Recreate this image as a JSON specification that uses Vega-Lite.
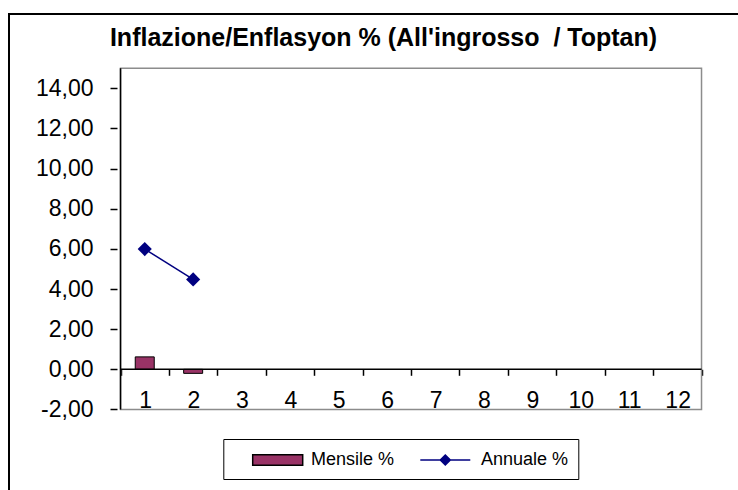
{
  "$schema": "https://vega.github.io/schema/vega-lite/v6.json",
  "width": 735,
  "height": 480,
  "autosize": {"type": "none"},
  "padding": {"left": 9, "top": 14, "right": 0, "bottom": 0},
  "background": "white",
  "config": {
    "view": {"stroke": "black", "strokeWidth": 2},
    "font": "Liberation Sans"
  },
  "title": {
    "text": "Inflazione/Enflasyon % (All'ingrosso \u00a0/ Toptan)",
    "font": "Liberation Sans",
    "fontSize": 25,
    "fontWeight": "bold",
    "color": "black",
    "anchor": "middle",
    "baseline": "alphabetic",
    "offset": 0,
    "dx": 7,
    "dy": 57
  },
  "data": {
    "values": [
      {"cat": 1, "series": "Mensile %", "value": 0.62},
      {"cat": 2, "series": "Mensile %", "value": -0.2},
      {"cat": 1, "series": "Annuale %", "value": 5.99},
      {"cat": 2, "series": "Annuale %", "value": 4.48}
    ]
  },
  "layer": [
    {
      "transform": [{"filter": "datum.series === 'Mensile %'"}],
      "mark": {"type": "bar", "width": 19, "strokeWidth": 1},
      "encoding": {
        "x": {
          "field": "cat",
          "type": "quantitative",
          "title": null,
          "scale": {"domain": [-1.7003, 13.2742], "nice": false, "zero": false},
          "axis": {
            "values": [0.5, 1.5, 2.5, 3.5, 4.5, 5.5, 6.5, 7.5, 8.5, 9.5, 10.5, 11.5, 12.5],
            "labelExpr": "datum.value < 12 ? format(datum.value + 0.5, 'd') : ''",
            "labelOffset": 24.54, "offset": -124.7, "domain": false, "grid": false,
            "tickColor": "black", "tickSize": 6, "tickWidth": 1.5,
            "labelFont": "Liberation Sans", "labelFontSize": 23, "labelColor": "black", "labelPadding": 14,
            "labelOverlap": false, "labelFlush": false, "labelBound": false
          }
        },
        "y": {
          "field": "value",
          "type": "quantitative",
          "title": null,
          "scale": {"domain": [-6.21, 17.7], "nice": false, "zero": false},
          "axis": {
            "values": [-2, 0, 2, 4, 6, 8, 10, 12, 14],
            "labelExpr": "replace(replace(format(datum.value, '.2f'), '.', ','), '\u2212', '-')",
            "offset": -108, "domain": false, "grid": false,
            "tickColor": "black", "tickSize": 7, "tickWidth": 1.5,
            "labelFont": "Liberation Sans", "labelFontSize": 23, "labelColor": "black", "labelPadding": 17,
            "labelOverlap": false, "labelFlush": false, "labelBound": false
          }
        },
        "y2": {"datum": 0},
        "fill": {
          "field": "series",
          "type": "nominal",
          "scale": {"domain": ["Mensile %", "Annuale %"], "range": ["#993366", "transparent"]},
          "legend": {
            "title": null, "orient": "none", "legendX": 214.3, "legendY": 425, "direction": "horizontal",
            "fillColor": "white", "strokeColor": "black", "padding": 10,
            "symbolOffset": 33.4, "symbolSize": 400, "symbolType": "M-2.5,-0.53H2.5V0.53H-2.5Z",
            "symbolStrokeWidth": 1.5, "labelOffset": 22.3, "columnPadding": 9,
            "labelFont": "Liberation Sans", "labelFontSize": 18, "labelColor": "black", "labelLimit": 300
          }
        },
        "stroke": {
          "field": "series",
          "type": "nominal",
          "scale": {"domain": ["Mensile %", "Annuale %"], "range": ["black", "transparent"]},
          "legend": {
            "title": null, "orient": "none", "legendX": 214.3, "legendY": 425, "direction": "horizontal",
            "fillColor": "white", "strokeColor": "black", "padding": 10,
            "symbolOffset": 33.4, "symbolSize": 400, "symbolType": "M-2.5,-0.53H2.5V0.53H-2.5Z",
            "symbolStrokeWidth": 1.5, "labelOffset": 22.3, "columnPadding": 9,
            "labelFont": "Liberation Sans", "labelFontSize": 18, "labelColor": "black", "labelLimit": 300
          }
        }
      }
    },
    {
      "data": {"values": [{}]},
      "mark": {"type": "rect", "fill": "transparent", "stroke": "#8c8c8c", "strokeWidth": 1.5},
      "encoding": {
        "x": {
          "datum": 0.5, "type": "quantitative", "title": null,
          "axis": {
            "values": [0.5, 1.5, 2.5, 3.5, 4.5, 5.5, 6.5, 7.5, 8.5, 9.5, 10.5, 11.5, 12.5],
            "labelExpr": "datum.value < 12 ? format(datum.value + 0.5, 'd') : ''",
            "labelOffset": 24.54, "offset": -124.7, "domain": false, "grid": false,
            "tickColor": "black", "tickSize": 6, "tickWidth": 1.5,
            "labelFont": "Liberation Sans", "labelFontSize": 23, "labelColor": "black", "labelPadding": 14,
            "labelOverlap": false, "labelFlush": false, "labelBound": false
          }
        },
        "x2": {"datum": 12.5},
        "y": {
          "datum": -2, "type": "quantitative", "title": null,
          "axis": {
            "values": [-2, 0, 2, 4, 6, 8, 10, 12, 14],
            "labelExpr": "replace(replace(format(datum.value, '.2f'), '.', ','), '\u2212', '-')",
            "offset": -108, "domain": false, "grid": false,
            "tickColor": "black", "tickSize": 7, "tickWidth": 1.5,
            "labelFont": "Liberation Sans", "labelFontSize": 23, "labelColor": "black", "labelPadding": 17,
            "labelOverlap": false, "labelFlush": false, "labelBound": false
          }
        },
        "y2": {"datum": 15}
      }
    },
    {
      "data": {"values": [{}]},
      "mark": {"type": "rule", "stroke": "black", "strokeWidth": 1.5},
      "encoding": {
        "x": {
          "datum": 0.5, "type": "quantitative", "title": null,
          "axis": {
            "values": [0.5, 1.5, 2.5, 3.5, 4.5, 5.5, 6.5, 7.5, 8.5, 9.5, 10.5, 11.5, 12.5],
            "labelExpr": "datum.value < 12 ? format(datum.value + 0.5, 'd') : ''",
            "labelOffset": 24.54, "offset": -124.7, "domain": false, "grid": false,
            "tickColor": "black", "tickSize": 6, "tickWidth": 1.5,
            "labelFont": "Liberation Sans", "labelFontSize": 23, "labelColor": "black", "labelPadding": 14,
            "labelOverlap": false, "labelFlush": false, "labelBound": false
          }
        },
        "y": {
          "datum": -2, "type": "quantitative", "title": null,
          "axis": {
            "values": [-2, 0, 2, 4, 6, 8, 10, 12, 14],
            "labelExpr": "replace(replace(format(datum.value, '.2f'), '.', ','), '\u2212', '-')",
            "offset": -108, "domain": false, "grid": false,
            "tickColor": "black", "tickSize": 7, "tickWidth": 1.5,
            "labelFont": "Liberation Sans", "labelFontSize": 23, "labelColor": "black", "labelPadding": 17,
            "labelOverlap": false, "labelFlush": false, "labelBound": false
          }
        },
        "y2": {"datum": 15}
      }
    },
    {
      "data": {"values": [{}]},
      "mark": {"type": "rule", "stroke": "black", "strokeWidth": 1.5},
      "encoding": {
        "x": {
          "datum": 0.5, "type": "quantitative", "title": null,
          "axis": {
            "values": [0.5, 1.5, 2.5, 3.5, 4.5, 5.5, 6.5, 7.5, 8.5, 9.5, 10.5, 11.5, 12.5],
            "labelExpr": "datum.value < 12 ? format(datum.value + 0.5, 'd') : ''",
            "labelOffset": 24.54, "offset": -124.7, "domain": false, "grid": false,
            "tickColor": "black", "tickSize": 6, "tickWidth": 1.5,
            "labelFont": "Liberation Sans", "labelFontSize": 23, "labelColor": "black", "labelPadding": 14,
            "labelOverlap": false, "labelFlush": false, "labelBound": false
          }
        },
        "x2": {"datum": 12.5},
        "y": {
          "datum": 0, "type": "quantitative", "title": null,
          "axis": {
            "values": [-2, 0, 2, 4, 6, 8, 10, 12, 14],
            "labelExpr": "replace(replace(format(datum.value, '.2f'), '.', ','), '\u2212', '-')",
            "offset": -108, "domain": false, "grid": false,
            "tickColor": "black", "tickSize": 7, "tickWidth": 1.5,
            "labelFont": "Liberation Sans", "labelFontSize": 23, "labelColor": "black", "labelPadding": 17,
            "labelOverlap": false, "labelFlush": false, "labelBound": false
          }
        }
      }
    },
    {
      "transform": [{"filter": "datum.series === 'Annuale %'"}],
      "mark": {"type": "line", "strokeWidth": 1.5, "point": {"shape": "diamond", "size": 200, "filled": true, "opacity": 1}},
      "encoding": {
        "x": {
          "field": "cat", "type": "quantitative", "title": null,
          "axis": {
            "values": [0.5, 1.5, 2.5, 3.5, 4.5, 5.5, 6.5, 7.5, 8.5, 9.5, 10.5, 11.5, 12.5],
            "labelExpr": "datum.value < 12 ? format(datum.value + 0.5, 'd') : ''",
            "labelOffset": 24.54, "offset": -124.7, "domain": false, "grid": false,
            "tickColor": "black", "tickSize": 6, "tickWidth": 1.5,
            "labelFont": "Liberation Sans", "labelFontSize": 23, "labelColor": "black", "labelPadding": 14,
            "labelOverlap": false, "labelFlush": false, "labelBound": false
          }
        },
        "y": {
          "field": "value", "type": "quantitative", "title": null,
          "axis": {
            "values": [-2, 0, 2, 4, 6, 8, 10, 12, 14],
            "labelExpr": "replace(replace(format(datum.value, '.2f'), '.', ','), '\u2212', '-')",
            "offset": -108, "domain": false, "grid": false,
            "tickColor": "black", "tickSize": 7, "tickWidth": 1.5,
            "labelFont": "Liberation Sans", "labelFontSize": 23, "labelColor": "black", "labelPadding": 17,
            "labelOverlap": false, "labelFlush": false, "labelBound": false
          }
        },
        "color": {
          "field": "series",
          "type": "nominal",
          "scale": {"domain": ["Annuale %"], "range": ["#000080"]},
          "legend": {
            "title": null, "orient": "none", "legendX": 425.3, "legendY": 435, "direction": "horizontal",
            "padding": 0, "symbolOffset": 0, "symbolSize": 400,
            "symbolType": "M-2.5,0H2.5M0,-0.5L0.5,0L0,0.5L-0.5,0Z",
            "symbolFillColor": "#000080", "symbolStrokeColor": "#000080", "symbolStrokeWidth": 1.5,
            "labelOffset": 22.4, "labelExpr": "''",
            "labelFont": "Liberation Sans", "labelFontSize": 18, "labelColor": "black", "labelLimit": 300
          }
        }
      }
    }
  ]
}
